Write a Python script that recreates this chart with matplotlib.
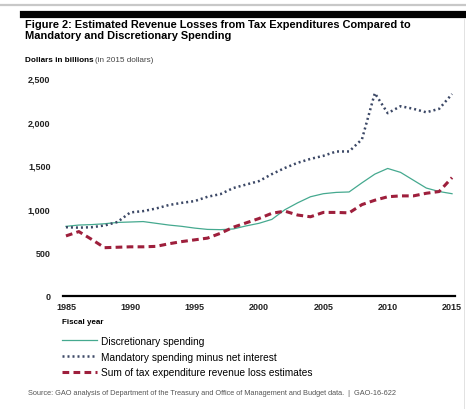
import matplotlib as mpl

mpl.use("agg")

import matplotlib.pyplot as plt
from matplotlib.lines import Line2D

plt.rcParams["font.family"] = ["Liberation Sans", "DejaVu Sans"]

# values, billions of 2015 dollars
years = list(range(1985, 2016))
discretionary = [800, 815, 820, 830, 845, 850, 855, 835, 815, 800,
                 780, 765, 762, 770, 805, 835, 880, 990, 1070, 1140,
                 1175, 1190, 1195, 1300, 1400, 1465, 1420, 1330, 1240, 1200,
                 1175]
mandatory = [790, 785, 790, 810, 850, 960, 975, 1005, 1045, 1070,
             1090, 1140, 1170, 1240, 1280, 1320, 1400, 1470, 1530, 1575,
             1610, 1660, 1660, 1800, 2330, 2100, 2180, 2150, 2110, 2150,
             2320]
tax_exp = [690, 740, 650, 555, 560, 565, 565, 570, 600, 625,
           645, 665, 720, 790, 840, 890, 950, 975, 930, 910,
           960, 960, 955, 1050, 1100, 1140, 1150, 1150, 1180, 1200,
           1360]

y_ticks = [0, 500, 1000, 1500, 2000, 2500]
y_labels = ["0", "500", "1,000", "1,500", "2,000", "2,500"]
x_ticks = [1985, 1990, 1995, 2000, 2005, 2010, 2015]

series_names = [
    "Discretionary spending",
    "Mandatory spending minus net interest",
    "Sum of tax expenditure revenue loss estimates",
]

W, H = 466, 410
GREEN = "#45a98f"
BLUE = "#3c4866"
RED = "#9e1f3c"


def fx(px):
    return px / W


def fy(py):
    return 1 - py / H


fig = plt.figure(figsize=(W / 100, H / 100), dpi=100)

# header rules
fig.add_artist(Line2D([0, 1], [fy(6), fy(6)], color="#c8c8c8", lw=1.6))
fig.add_artist(Line2D([fx(23), 1], [fy(14.5), fy(14.5)], color="black", lw=5.2))
fig.add_artist(Line2D([fx(464), fx(464)], [fy(20), fy(410)], color="#dddddd", lw=0.6))

fig.text(fx(25), fy(20), "Figure 2: Estimated Revenue Losses from Tax Expenditures Compared to\n"
         "Mandatory and Discretionary Spending",
         fontsize=7.9, fontweight="bold", va="top", ha="left", linespacing=1.15)

t = fig.text(fx(25), fy(60), "Dollars in billions", fontsize=5.9, fontweight="bold",
             va="center", ha="left")
fig.canvas.draw()
bb = t.get_window_extent()
fig.text(bb.x1 / fig.dpi / fig.get_figwidth() + 0.004, fy(60), "(in 2015 dollars)",
         fontsize=5.9, color="#444444", va="center", ha="left")

ax = fig.add_axes([fx(63), fy(297), fx(455) - fx(63), fy(75) - fy(297)])
ax.plot(years, discretionary, color=GREEN, lw=0.9, label=series_names[0])
ax.plot(years, mandatory, color=BLUE, lw=1.8, linestyle=(0, (0.8, 1.2)),
        label=series_names[1])
ax.plot(years, tax_exp, color=RED, lw=2.2, linestyle=(0, (2.2, 1.4)),
        label=series_names[2])

ax.set_xlim(1984.77, 2015.23)
ax.set_ylim(0, 2550)
for s in ["top", "right", "left"]:
    ax.spines[s].set_visible(False)
ax.spines["bottom"].set_linewidth(1.6)
ax.set_yticks(y_ticks)
ax.set_yticklabels(y_labels)
ax.set_xticks(x_ticks)
ax.tick_params(axis="both", length=0, labelsize=6.5, colors="#222222")
ax.tick_params(axis="y", pad=9)
ax.tick_params(axis="x", pad=4)
for lab in ax.get_xticklabels() + ax.get_yticklabels():
    lab.set_fontweight("bold")

fig.text(fx(62), fy(323), "Fiscal year", fontsize=5.8, fontweight="bold",
         va="center", ha="left")

ax.legend(loc="upper left", bbox_to_anchor=(fx(62), fy(337)),
          bbox_transform=fig.transFigure, frameon=False, fontsize=7.3,
          handlelength=3.5, handletextpad=0.35, labelspacing=0.55,
          borderpad=0, borderaxespad=0)

fig.text(fx(28), fy(394), "Source: GAO analysis of Department of the Treasury and Office of "
         "Management and Budget data.  |  GAO-16-622",
         fontsize=5.3, color="#555555", va="center", ha="left")

fig.savefig("out.png", dpi=100)
